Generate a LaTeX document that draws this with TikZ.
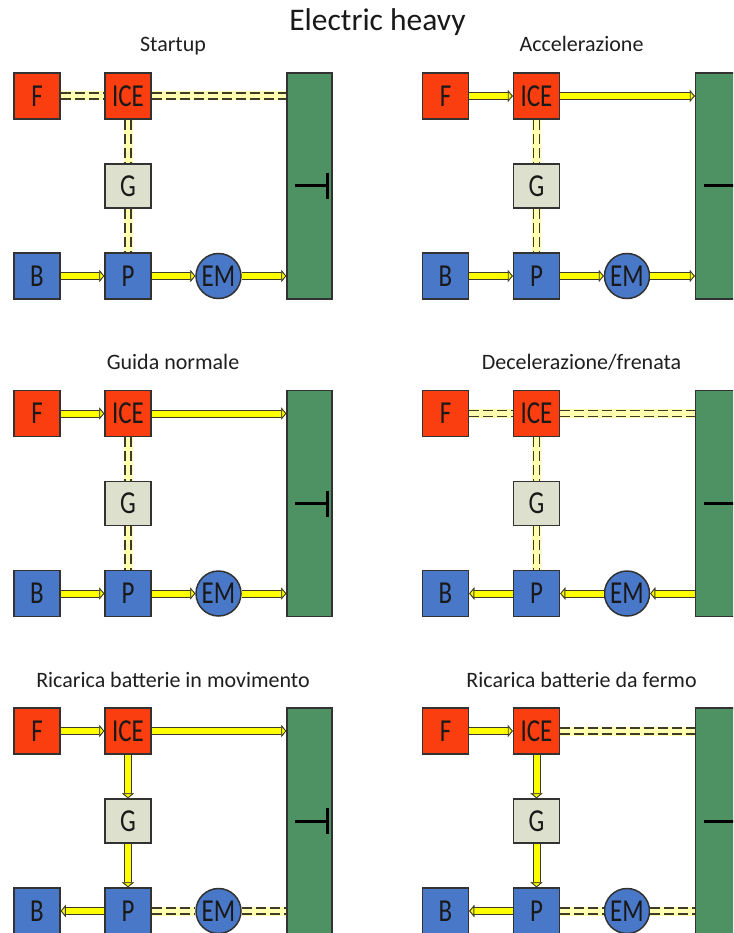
\documentclass[tikz,border=0pt]{standalone}
\usepackage{fontspec}
\setmainfont{Carlito}
\newfontfamily\lblfont[FakeStretch=0.78]{Carlito}
\usetikzlibrary{arrows.meta}
\definecolor{cred}{RGB}{250,62,16}
\definecolor{cblue}{RGB}{74,120,200}
\definecolor{cgbox}{RGB}{221,224,204}
\definecolor{cgreen}{RGB}{78,145,98}
\definecolor{cborder}{RGB}{50,50,50}
\definecolor{cyel}{RGB}{255,255,0}
\definecolor{cpale}{RGB}{255,255,175}
\definecolor{cdark}{RGB}{60,60,40}
\colorlet{cdash}{cdark}
\tikzset{
  box/.style={draw=cborder, line width=1.5pt, minimum width=46pt, minimum height=46pt,
    inner sep=0pt, font=\lblfont\fontsize{32}{32}\selectfont, text=black!90},
  redbox/.style={box, fill=cred},
  bluebox/.style={box, fill=cblue},
  gbox/.style={box, fill=cgbox, minimum height=44pt},
  emnode/.style={box, circle, fill=cblue, minimum size=45pt},
  greenbar/.style={draw=cborder, line width=1.5pt, fill=cgreen, minimum width=45pt,
    minimum height=226pt, inner sep=0pt},
  subtitle/.style={anchor=base, font=\fontsize{22}{22}\selectfont, text=black!88},
  tsym/.style={draw=black, line width=3pt},
  sconn/.style={draw=cdark, line width=8pt,
    -{Triangle[length=5pt, width=12pt, fill=cyel, color=cdark, line width=0.8pt]},
    postaction={draw=cyel, line width=6pt}},
  dconn/.style={draw=cpale, line width=9pt,
    postaction={draw=cdash, line width=1.7pt, double=cpale, double distance=4.4pt,
      dash pattern=on 10pt off 4pt}},
}
\newcommand\mkpanel[4]{%
\begin{scope}[shift={(#2,#3)}]
 \node[redbox] (F#1) at (37,96) {F};
 \node[redbox] (I#1) at (128,96) {ICE};
 \node[gbox] (G#1) at (128,186) {G};
 \node[bluebox] (B#1) at (37,276) {B};
 \node[bluebox] (P#1) at (128,276) {P};
 \node[emnode] (E#1) at (218.5,276) {EM};
 \node[greenbar] (W#1) at (309.5,186) {};
 \node[subtitle] (S#1) at (173,52) {#4};
 \coordinate (wi#1) at (I#1.east -| W#1.west);
 \coordinate (we#1) at (E#1.east -| W#1.west);
 \draw[tsym] ([xshift=-14.5pt]W#1.center) -- ([xshift=17.5pt]W#1.center);
 \draw[tsym] ([xshift=17.5pt, yshift=13pt]W#1.center) -- ([xshift=17.5pt, yshift=-13pt]W#1.center);
\end{scope}}
\begin{document}
\begin{tikzpicture}[x=1pt, y=-1pt]
\useasboundingbox (0,0) rectangle (733,933);
\clip (0,0) rectangle (733,933);
\fill[white] (0,0) rectangle (733,933);
\node[anchor=base, font=\fontsize{31.5}{31.5}\selectfont, text=black!90] (title) at (377.5,31) {Electric heavy};

\mkpanel{a}{0}{0}{Startup}
\mkpanel{b}{408.5}{0}{Accelerazione}
\mkpanel{c}{0}{317.5}{Guida normale}
\mkpanel{d}{408.5}{317.5}{Decelerazione/frenata}
\mkpanel{e}{0}{635}{Ricarica batterie in movimento}
\mkpanel{f}{408.5}{635}{Ricarica batterie da fermo}

% a: Startup
\draw[dconn] (Fa) -- (Ia);
\draw[dconn] (Ia.east) -- (wia);
\draw[dconn] (Ia) -- (Ga);
\draw[dconn] (Ga) -- (Pa);
\draw[sconn] (Ba) -- (Pa);
\draw[sconn] (Pa) -- (Ea);
\draw[sconn] (Ea.east) -- (wea);

% b: Accelerazione
\draw[sconn] (Fb) -- (Ib);
\draw[sconn] (Ib.east) -- (wib);
\draw[dconn] (Ib) -- (Gb);
\draw[dconn] (Gb) -- (Pb);
\draw[sconn] (Bb) -- (Pb);
\draw[sconn] (Pb) -- (Eb);
\draw[sconn] (Eb.east) -- (web);

% c: Guida normale
\draw[sconn] (Fc) -- (Ic);
\draw[sconn] (Ic.east) -- (wic);
\draw[dconn] (Ic) -- (Gc);
\draw[dconn] (Gc) -- (Pc);
\draw[sconn] (Bc) -- (Pc);
\draw[sconn] (Pc) -- (Ec);
\draw[sconn] (Ec.east) -- (wec);

% d: Decelerazione/frenata
\draw[dconn] (Fd) -- (Id);
\draw[dconn] (Id.east) -- (wid);
\draw[dconn] (Id) -- (Gd);
\draw[dconn] (Gd) -- (Pd);
\draw[sconn] (Pd) -- (Bd);
\draw[sconn] (Ed) -- (Pd);
\draw[sconn] (wed) -- (Ed.east);

% e: Ricarica batterie in movimento
\draw[sconn] (Fe) -- (Ie);
\draw[sconn] (Ie.east) -- (wie);
\draw[sconn] (Ie) -- (Ge);
\draw[sconn] (Ge) -- (Pe);
\draw[sconn] (Pe) -- (Be);
\draw[dconn] (Pe) -- (Ee);
\draw[dconn] (Ee.east) -- (wee);

% f: Ricarica batterie da fermo
\draw[sconn] (Ff) -- (If);
\draw[dconn] (If.east) -- (wif);
\draw[sconn] (If) -- (Gf);
\draw[sconn] (Gf) -- (Pf);
\draw[sconn] (Pf) -- (Bf);
\draw[dconn] (Pf) -- (Ef);
\draw[dconn] (Ef.east) -- (wef);
\end{tikzpicture}
\end{document}
